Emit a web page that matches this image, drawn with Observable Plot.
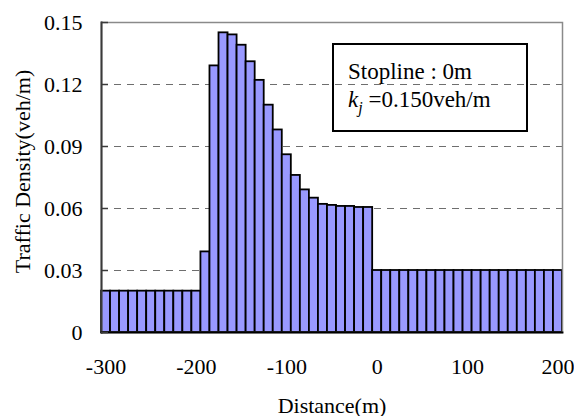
<!DOCTYPE html>
<html>
<head>
<meta charset="utf-8">
<script src="https://cdn.jsdelivr.net/npm/d3@7"></script>
<script src="https://cdn.jsdelivr.net/npm/@observablehq/plot@0.6"></script>
<style>
  html, body { margin: 0; padding: 0; background: #fff; }
  #wrap { position: relative; width: 574px; height: 416px; }
  #chart svg text { font-family: "Liberation Serif", "Times New Roman", serif !important; }
  #box {
    position: absolute; left: 332px; top: 43px; width: 196px; height: 89px;
    border: 2px solid #000; box-sizing: border-box;
    font-family: "Liberation Serif", "Times New Roman", serif; font-size: 23px; color: #000;
    padding: 13px 0 0 14px; line-height: 28px; white-space: nowrap;
  }
  #box sub { font-size: 16px; vertical-align: -6px; line-height: 0; }
</style>
</head>
<body>
<div id="wrap">
  <div id="chart"></div>
  <div id="box"><div>Stopline : 0m</div><div><i>k</i><sub><i>j</i></sub> =0.150veh/m</div></div>
</div>
<script>
const distances = [-300,-290,-280,-270,-260,-250,-240,-230,-220,-210,-200,
  -190,-180,-170,-160,-150,-140,-130,-120,-110,-100,
  -90,-80,-70,-60,-50,-40,-30,-20,-10,0,
  10,20,30,40,50,60,70,80,90,100,
  110,120,130,140,150,160,170,180,190,200];
const densities = [0.020,0.020,0.020,0.020,0.020,0.020,0.020,0.020,0.020,0.020,0.020,
  0.039,0.129,0.145,0.144,0.139,0.131,0.122,0.110,0.098,0.086,
  0.076,0.069,0.065,0.062,0.0615,0.061,0.061,0.0605,0.0605,0.030,
  0.030,0.030,0.030,0.030,0.030,0.030,0.030,0.030,0.030,0.030,
  0.030,0.030,0.030,0.030,0.030,0.030,0.030,0.030,0.030,0.030];
const xTicks = [-300, -200, -100, 0, 100, 200];
const yTicks = [0, 0.03, 0.06, 0.09, 0.12, 0.15];
const gridLines = [0.03, 0.06, 0.09, 0.12];
const binWidth = 10;
const xTitle = "Distance(m)";
const yTitle = "Traffic Density(veh/m)";

const rows = distances.map((d, i) => ({distance: d, density: densities[i]}));

const chart = Plot.plot({
  width: 574,
  height: 416,
  marginLeft: 101,
  marginRight: 12,
  marginTop: 22,
  marginBottom: 84,
  style: {fontFamily: "'Liberation Serif', 'Times New Roman', serif", fontSize: "22px", color: "#000", background: "#fff", overflow: "visible"},
  x: {domain: [distances[0] - binWidth / 2, distances[distances.length - 1] + binWidth / 2]},
  y: {domain: [0, 0.15]},
  marks: [
    Plot.ruleY(gridLines, {stroke: "#6e6e6e", strokeWidth: 1, strokeDasharray: "7,6"}),
    Plot.rectY(rows, {
      x1: d => d.distance - binWidth / 2,
      x2: d => d.distance + binWidth / 2,
      y: "density",
      fill: "#9999FF",
      stroke: "#000",
      strokeWidth: 1.8
    }),
    Plot.frame({stroke: "#8a8a8a", strokeWidth: 1.5}),
    Plot.frame({anchor: "left", stroke: "#3a3a3a", strokeWidth: 2}),
    Plot.frame({anchor: "bottom", stroke: "#000", strokeWidth: 1.8}),
    Plot.axisY({
      ticks: yTicks,
      tickSize: 0,
      tickPadding: 19,
      tickFormat: d => d === 0 ? "0" : d.toFixed(2),
      fontSize: 22,
      label: null
    }),
    Plot.axisY({ticks: yTicks, tickSize: -7, tickFormat: () => "", label: null, stroke: "#3a3a3a", strokeWidth: 1.5}),
    Plot.axisX({
      ticks: xTicks,
      tickSize: 0,
      tickPadding: 26,
      tickFormat: d => String(d),
      fontSize: 22,
      label: null
    }),
    Plot.text([xTitle], {frameAnchor: "bottom", textAnchor: "middle", dy: 80, fontSize: 22, lineAnchor: "bottom"}),
    Plot.text([yTitle], {frameAnchor: "left", textAnchor: "middle", rotate: -90, dx: -79, dy: -6, fontSize: 22})
  ]
});
document.getElementById("chart").appendChild(chart);
</script>
</body>
</html>
